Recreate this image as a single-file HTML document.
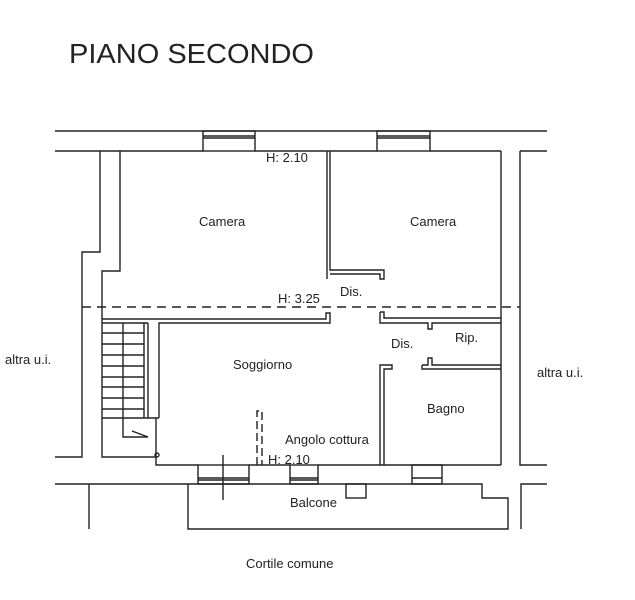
<!DOCTYPE html>
<html><head><meta charset="utf-8"><style>
html,body{margin:0;padding:0;background:#fff;}
svg{display:block;}
text{font-family:"Liberation Sans",sans-serif;fill:#222;}
</style></head><body>
<svg width="635" height="600" viewBox="0 0 635 600" xmlns="http://www.w3.org/2000/svg">
<text x="69" y="63" font-size="27.5" textLength="245" lengthAdjust="spacingAndGlyphs">PIANO SECONDO</text>
<g fill="none" stroke="#222" stroke-width="1.4">
<line x1="55" y1="131" x2="547" y2="131"/>
<polyline points="55,151 203,151"/>
<polyline points="255,151 377,151"/>
<polyline points="430,151 501,151"/>
<line x1="520" y1="151" x2="547" y2="151"/>
<rect x="203" y="131" width="52" height="20"/>
<line x1="203" y1="136" x2="255" y2="136"/><line x1="203" y1="138" x2="255" y2="138"/>
<rect x="377" y="131" width="53" height="20"/>
<line x1="377" y1="136" x2="430" y2="136"/><line x1="377" y1="138" x2="430" y2="138"/>
<polyline points="100,151 100,252 82,252 82,457 55,457"/>
<polyline points="120,151 120,271 102,271 102,457 157,457"/>
<circle cx="157" cy="455" r="2"/>
<line x1="82" y1="307" x2="520" y2="307" stroke-dasharray="9,6"/>
<polyline points="327,151 327,272 327,279"/>
<polyline points="330,151 330,270 384,270 384,279 380,279 380,274 330,274"/>
<line x1="501" y1="151" x2="501" y2="465"/>
<polyline points="520,151 520,465 547,465"/>
<polyline points="547,484 521,484 521,529"/>
<polyline points="102,319 326,319 326,313 330,313 330,323 159,323 159,418"/>
<line x1="102" y1="323" x2="148" y2="323"/>
<line x1="144" y1="323" x2="144" y2="418"/>
<line x1="148" y1="323" x2="148" y2="418"/>
<line x1="102" y1="333" x2="144" y2="333"/><line x1="102" y1="344" x2="144" y2="344"/>
<line x1="102" y1="355" x2="144" y2="355"/><line x1="102" y1="366" x2="144" y2="366"/>
<line x1="102" y1="377" x2="144" y2="377"/><line x1="102" y1="387" x2="144" y2="387"/>
<line x1="102" y1="398" x2="144" y2="398"/><line x1="102" y1="409" x2="144" y2="409"/>
<line x1="102" y1="418" x2="159" y2="418"/>
<polyline points="123,323 123,437 148,437 132,431"/>
<polyline points="156,418 156,465 198,465"/>
<polyline points="380,312 380,323 428,323 428,329 432,329 432,323 501,323"/>
<polyline points="380,312 384,312 384,318 501,318"/>
<polyline points="422,365 422,369 501,369"/>
<polyline points="422,365 428,365 428,358 432,358 432,365 501,365"/>
<polyline points="380,465 380,365 392,365 392,369 384,369 384,465"/>
<line x1="249" y1="465" x2="290" y2="465"/>
<line x1="318" y1="465" x2="501" y2="465"/>
<rect x="198" y="465" width="51" height="19"/>
<line x1="198" y1="478" x2="249" y2="478"/><line x1="198" y1="480" x2="249" y2="480"/>
<rect x="290" y="465" width="28" height="19"/>
<line x1="290" y1="478" x2="318" y2="478"/><line x1="290" y1="480" x2="318" y2="480"/>
<rect x="412" y="465" width="30" height="19"/>
<line x1="412" y1="478" x2="442" y2="478"/>
<line x1="223" y1="455" x2="223" y2="500"/>
<polyline points="55,484 482,484 482,498 508,498 508,529 188,529 188,484"/>
<line x1="89" y1="484" x2="89" y2="529"/>
<rect x="346" y="484" width="20" height="14"/>
<polyline points="257,465 257,411 262,411 262,465" stroke-dasharray="8,4"/>
</g>
<g font-size="13">
<text x="266" y="162">H: 2.10</text>
<text x="199" y="226">Camera</text>
<text x="410" y="226">Camera</text>
<text x="340" y="296">Dis.</text>
<text x="278" y="303">H: 3.25</text>
<text x="455" y="342">Rip.</text>
<text x="391" y="348">Dis.</text>
<text x="5" y="364">altra u.i.</text>
<text x="537" y="377">altra u.i.</text>
<text x="233" y="369">Soggiorno</text>
<text x="427" y="413">Bagno</text>
<text x="285" y="444">Angolo cottura</text>
<text x="268" y="464">H: 2.10</text>
<text x="290" y="507">Balcone</text>
<text x="246" y="568">Cortile comune</text>
</g>
</svg>
</body></html>
